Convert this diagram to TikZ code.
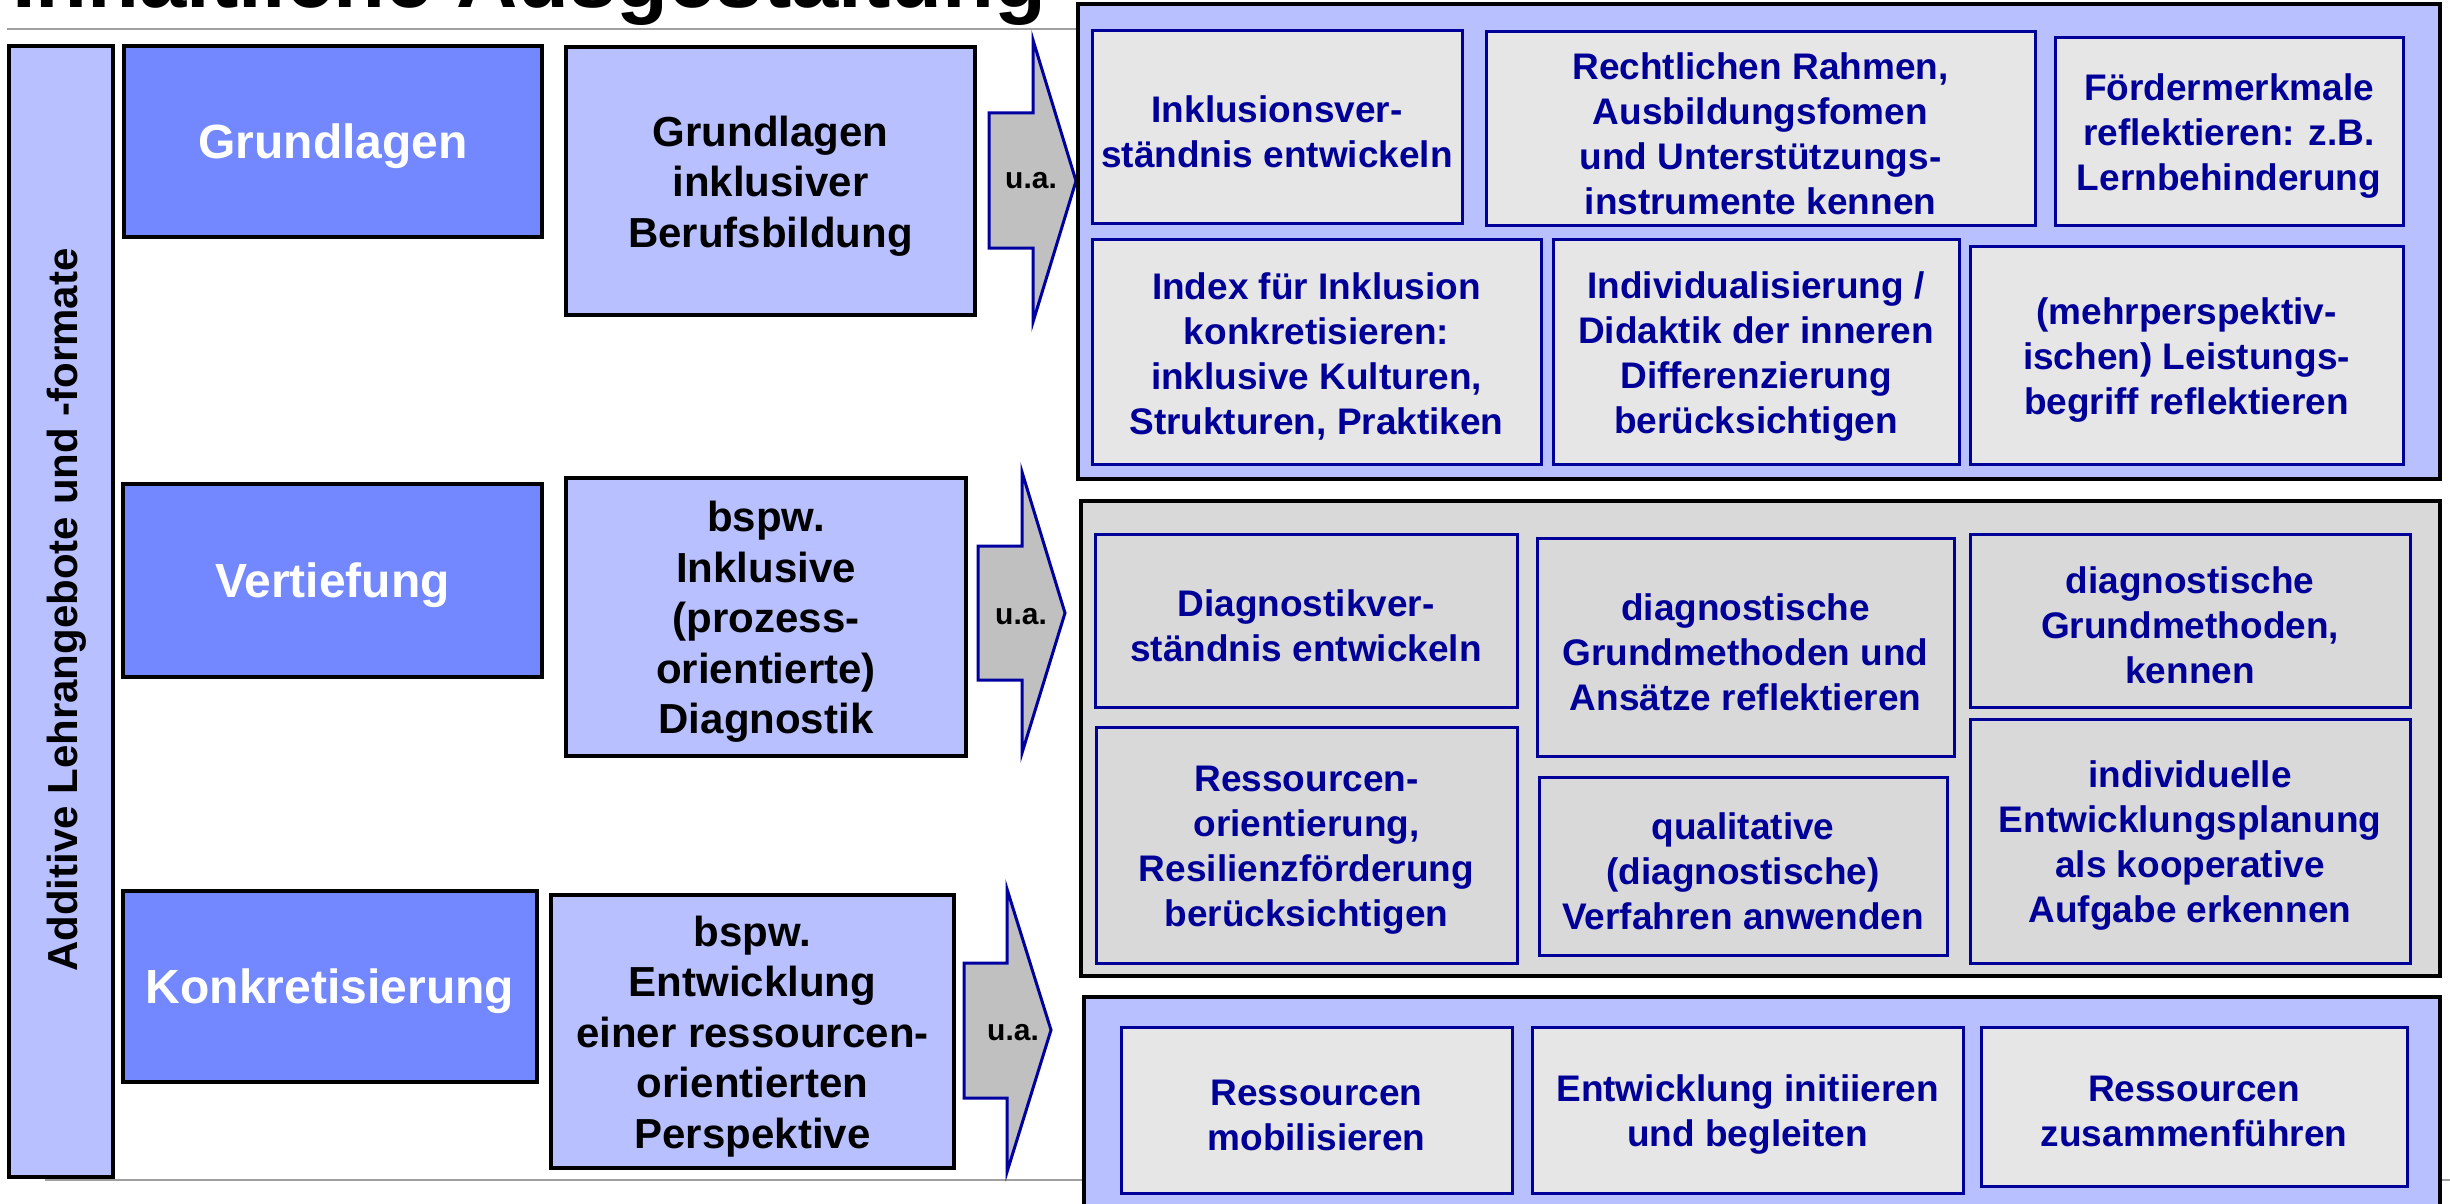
\documentclass[tikz,border=0pt]{standalone}
\usepackage{fontspec}
\setmainfont{Liberation Sans}
\definecolor{lb}{RGB}{184,192,255}
\definecolor{db}{RGB}{115,136,255}
\definecolor{pg}{RGB}{217,217,217}
\definecolor{ig}{RGB}{230,230,230}
\definecolor{nv}{RGB}{0,0,153}
\definecolor{ag}{RGB}{192,192,192}
\definecolor{ab}{RGB}{0,0,160}
\definecolor{ln}{RGB}{160,160,160}
\newcommand\rbox[7]{%
  \node[#6, minimum width={(#4)-(#2)}, minimum height={(#5)-(#3)}] (#1) at ({((#2)+(#4))/2},{((#3)+(#5))/2}) {};
  \node[#6, draw=none, fill=none, minimum width=0pt, minimum height=0pt] (#1-t) at ([yshift=-5pt]#1.center) {#7};}
\begin{document}
\begin{tikzpicture}[x=1pt,y=-1pt,
  base/.style={inner sep=0pt, outer sep=0pt, align=center},
  colbox/.style={base, draw=black, line width=3.5pt, fill=lb},
  stage/.style={base, draw=black, line width=3.5pt, fill=db, text=white, font=\fontsize{48}{58}\selectfont\bfseries},
  topic/.style={base, draw=black, line width=3.5pt, fill=lb, font=\fontsize{42}{50.5}\selectfont\bfseries},
  panelA/.style={base, draw=black, line width=4pt, fill=lb},
  panelB/.style={base, draw=black, line width=4pt, fill=pg},
  item/.style={base, draw=nv, line width=3pt, fill=ig, text=nv, font=\fontsize{37}{45}\selectfont\bfseries},
  itemg/.style={item, fill=pg},
  blockarrow/.style={draw=ab, fill=ag, line width=3pt, line join=miter},
  ua/.style={inner sep=0pt, font=\fontsize{30}{36}\selectfont\bfseries}]
\useasboundingbox (0,0) rectangle (2450,1204);
% title and rules
\node[anchor=base west, inner sep=0pt, font=\fontsize{85}{100}\selectfont\bfseries] (title) at (12,8) {Inhaltliche Ausgestaltung};
\coordinate (tl1) at (7,29); \coordinate (tl2) at (1080,29);
\draw[ln, line width=2.5pt] (tl1) -- (tl2);
\coordinate (fl1) at (45,1180); \coordinate (fl2) at (2450,1180);
\draw[ln, line width=2.5pt] (fl1) -- (fl2);
% left column
\rbox{col}{9}{46}{113}{1177}{colbox}{}
\node[rotate=90, anchor=base, inner sep=0pt, font=\fontsize{42}{50}\selectfont\bfseries] (coltext) at (77,610) {Additive Lehrangebote und -formate};
% stages
\rbox{s1}{124}{46}{542}{237}{stage}{Grundlagen}
\rbox{s2}{123}{484}{542}{677}{stage}{Vertiefung}
\rbox{s3}{123}{891}{537}{1082}{stage}{Konkretisierung}
% topics
\rbox{t1}{566}{47}{975}{315}{topic}{Grundlagen\\inklusiver\\Berufsbildung}
\rbox{t2}{566}{478}{966}{756}{topic}{bspw.\\Inklusive\\(prozess-\\orientierte)\\Diagnostik}
\rbox{t3}{551}{895}{954}{1168}{topic}{bspw.\\Entwicklung\\einer ressourcen-\\orientierten\\Perspektive}
% block arrows
\draw[blockarrow] (989,113) -- (1033,113) -- (1033,40) -- (1076,181) -- (1033,322) -- (1033,248) -- (989,248) -- cycle;
\node[ua] (ua1) at (1031,181) {u.a.};
\draw[blockarrow] (978,546) -- (1022,546) -- (1022,472) -- (1065,613) -- (1022,753) -- (1022,680) -- (978,680) -- cycle;
\node[ua] (ua2) at (1021,617) {u.a.};
\draw[blockarrow] (964,963) -- (1007,963) -- (1007,889) -- (1051,1030) -- (1007,1172) -- (1007,1098) -- (964,1098) -- cycle;
\node[ua] (ua3) at (1013,1033) {u.a.};
% panels
\rbox{p1}{1078}{4}{2440}{479}{panelA}{}
\rbox{p2}{1081}{501}{2440}{976}{panelB}{}
\rbox{p3}{1084}{997}{2440}{1240}{panelA}{}
% panel 1 items
\rbox{a}{1092}{31}{1462}{223}{item}{Inklusionsver-\\ständnis entwickeln}
\rbox{b}{1486}{32}{2035}{225}{item}{Rechtlichen Rahmen,\\Ausbildungsfomen\\und Unterstützungs-\\instrumente kennen}
\rbox{c}{2055}{38}{2403}{225}{item}{Fördermerkmale\\reflektieren: z.B.\\Lernbehinderung}
\rbox{d}{1092}{239}{1541}{464}{item}{Index für Inklusion\\konkretisieren:\\inklusive Kulturen,\\Strukturen, Praktiken}
\rbox{e}{1553}{239}{1959}{464}{item}{Individualisierung /\\Didaktik der inneren\\Differenzierung\\berücksichtigen}
\rbox{f}{1970}{246}{2403}{464}{item}{(mehrperspektiv-\\ischen) Leistungs-\\begriff reflektieren}
% panel 2 items
\rbox{g}{1095}{534}{1517}{707}{itemg}{Diagnostikver-\\ständnis entwickeln}
\rbox{h}{1537}{538}{1954}{756}{itemg}{diagnostische\\Grundmethoden und\\Ansätze reflektieren}
\rbox{i}{1970}{534}{2410}{707}{itemg}{diagnostische\\Grundmethoden,\\kennen}
\rbox{j}{1096}{727}{1517}{963}{itemg}{Ressourcen-\\orientierung,\\Resilienzförderung\\berücksichtigen}
\rbox{k}{1539}{777}{1947}{955}{itemg}{qualitative\\(diagnostische)\\Verfahren anwenden}
\rbox{l}{1970}{719}{2410}{963}{itemg}{individuelle\\Entwicklungsplanung\\als kooperative\\Aufgabe erkennen}
% panel 3 items
\rbox{m}{1121}{1027}{1512}{1193}{item}{Ressourcen\\mobilisieren}
\rbox{n}{1532}{1027}{1963}{1193}{item}{Entwicklung initiieren\\und begleiten}
\rbox{o}{1981}{1027}{2407}{1186}{item}{Ressourcen\\zusammenführen}
\end{tikzpicture}
\end{document}
